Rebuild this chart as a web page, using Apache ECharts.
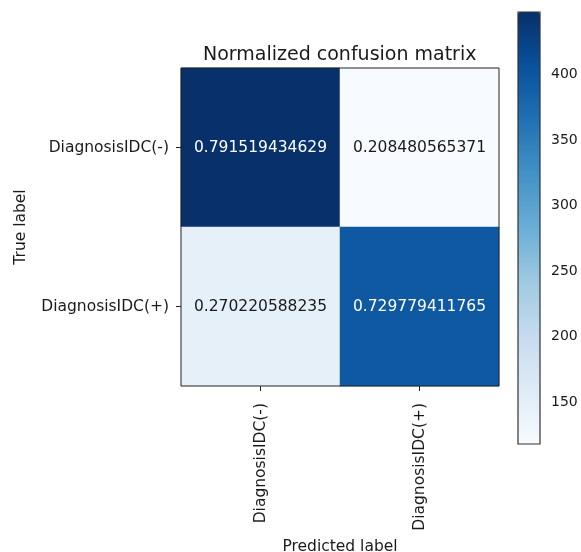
<!DOCTYPE html>
<html>
<head>
<meta charset="utf-8">
<script src="https://cdn.jsdelivr.net/npm/echarts@6/dist/echarts.min.js"></script>
<style>
html,body{margin:0;padding:0;background:#fff;}
#chart{width:581px;height:552px;}
</style>
</head>
<body>
<div id="chart"></div>
<script>
const predictedLabels = ['DiagnosisIDC(-)', 'DiagnosisIDC(+)'];
const trueLabels = ['DiagnosisIDC(-)', 'DiagnosisIDC(+)'];
// raw counts (colour), rows = true label
const countsRow0 = [448, 118];
const countsRow1 = [147, 397];
// normalized values shown as text
const normRow0 = ['0.791519434629', '0.208480565371'];
const normRow1 = ['0.270220588235', '0.729779411765'];
const colorbarTicks = [150, 200, 250, 300, 350, 400];
const cMin = 118, cMax = 448;

const counts = [countsRow0, countsRow1];
const norms = [normRow0, normRow1];
const thresh = 0.5;
const data = [];
for (let r = 0; r < 2; r++) {
  for (let c = 0; c < 2; c++) {
    const nv = parseFloat(norms[r][c]);
    data.push({
      value: [c, r, counts[r][c]],
      label: { formatter: norms[r][c], color: nv > thresh ? '#ffffff' : '#1a1a1a' }
    });
  }
}
const blues = ['#f7fbff','#deebf7','#c6dbef','#9ecae1','#6baed6','#4292c6','#2171b5','#08519c','#08306b'];
const font = 'DejaVu Sans';
const chart = echarts.init(document.getElementById('chart'), null, {renderer: 'canvas'});
chart.setOption({
  animation: false,
  backgroundColor: '#ffffff',
  textStyle: { fontFamily: font },
  title: {
    text: 'Normalized confusion matrix',
    left: 198, top: 41,
    textStyle: { fontFamily: font, fontSize: 19, fontWeight: 'normal', color: '#1a1a1a' }
  },
  grid: [
    { left: 181, top: 68, width: 318, height: 318, show: true, z: 10, outerBoundsMode: 'none', containLabel: false,
      backgroundColor: 'rgba(0,0,0,0)', borderColor: '#222', borderWidth: 1 },
    { left: 518, top: 12, width: 22, height: 432, show: true, z: 10, outerBoundsMode: 'none', containLabel: false,
      backgroundColor: 'rgba(0,0,0,0)', borderColor: '#333', borderWidth: 1.2 }
  ],
  xAxis: [
    { type: 'category', data: predictedLabels, gridIndex: 0, position: 'bottom',
      axisLine: { show: false },
      axisTick: { show: true, alignWithLabel: true, length: 5, lineStyle: { color: '#222' } },
      axisLabel: { rotate: 90, fontSize: 15.5, color: '#1a1a1a', fontFamily: font, margin: 17 },
      splitLine: { show: false },
      name: 'Predicted label', nameLocation: 'middle', nameGap: 150,
      nameTextStyle: { fontSize: 15.5, color: '#1a1a1a', fontFamily: font } },
    { type: 'value', gridIndex: 1, show: false, min: 0, max: 1 }
  ],
  yAxis: [
    { type: 'category', data: trueLabels, gridIndex: 0, inverse: true,
      axisLine: { show: false },
      axisTick: { show: true, alignWithLabel: true, length: 5, lineStyle: { color: '#222' } },
      axisLabel: { fontSize: 15.5, color: '#1a1a1a', fontFamily: font, margin: 12 },
      splitLine: { show: false },
      name: 'True label', nameLocation: 'middle', nameRotate: 90, nameGap: 152,
      nameTextStyle: { fontSize: 15.5, color: '#1a1a1a', fontFamily: font } },
    { type: 'value', gridIndex: 1, position: 'right', min: cMin, max: cMax,
      axisLine: { show: false },
      axisTick: { show: true, length: 5, customValues: colorbarTicks, lineStyle: { color: '#222' } },
      axisLabel: { fontSize: 14, color: '#1a1a1a', fontFamily: font, margin: 11, customValues: colorbarTicks },
      splitLine: { show: false } }
  ],
  visualMap: {
    type: 'continuous',
    seriesIndex: 0,
    min: cMin, max: cMax,
    left: 518, top: 12,
    itemWidth: 22, itemHeight: 432,
    padding: 0,
    calculable: false,
    hoverLink: false,
    text: null,
    showLabel: false,
    inRange: { color: blues },
    z: 5
  },
  series: [
    { type: 'heatmap', xAxisIndex: 0, yAxisIndex: 0, data: data,
      label: { show: true, fontSize: 15.5, fontFamily: font },
      emphasis: { disabled: true } },
    { type: 'scatter', xAxisIndex: 1, yAxisIndex: 1, data: [] }
  ]
});
</script>
</body>
</html>
